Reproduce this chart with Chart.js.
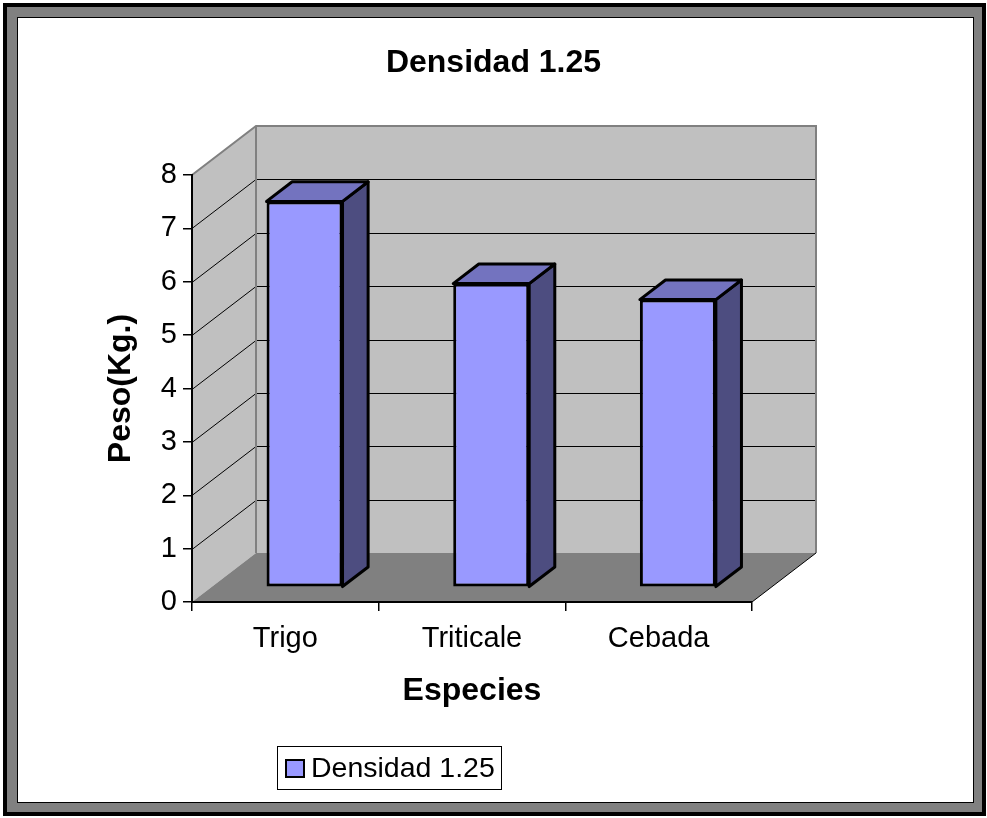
<!DOCTYPE html>
<html>
<head>
<meta charset="utf-8">
<title>Densidad 1.25</title>
<script src="https://cdn.jsdelivr.net/npm/chart.js@4"></script>
<style>
  html, body { margin: 0; padding: 0; background: #fff; }
  canvas { display: block; }
</style>
</head>
<body>
<canvas id="densidadChart" width="987" height="818"></canvas>
<script>
const categories = ['Trigo', 'Triticale', 'Cebada'];
const pesoValues = [7.23, 5.69, 5.39];
const seriesLabel = 'Densidad 1.25';
const yTickValues = [0, 1, 2, 3, 4, 5, 6, 7, 8];

const FONT = "'Liberation Sans', Arial, sans-serif";
const DEPTH_X = 64, DEPTH_Y = 49;        // depth of the 3d walls
const BAR_FRONT = 0.3, BAR_DEPTH = 0.4;  // bar position/depth as part of the wall depth

Chart.defaults.font.family = FONT;
Chart.defaults.color = '#000';

function poly(c, pts, fill, stroke, width) {
    c.beginPath();
    c.moveTo(pts[0][0], pts[0][1]);
    for (let i = 1; i < pts.length; i++) c.lineTo(pts[i][0], pts[i][1]);
    c.closePath();
    if (fill) { c.fillStyle = fill; c.fill(); }
    if (stroke) { c.strokeStyle = stroke; c.lineWidth = width; c.stroke(); }
}

// frame, walls, floor and gridlines behind everything
const walls3d = {
    id: 'walls3d',
    beforeDraw(chart) {
        const c = chart.ctx;
        const {left, right, top, bottom} = chart.chartArea;
        const yScale = chart.scales.y;
        const bx = DEPTH_X, by = DEPTH_Y;
        c.save();
        c.fillStyle = '#000'; c.fillRect(3, 3, 983, 813);
        c.fillStyle = '#808080'; c.fillRect(7, 7, 975, 805);
        c.fillStyle = '#000'; c.fillRect(17, 17, 957, 786);
        c.fillStyle = '#fff'; c.fillRect(18, 18, 955, 784);

        // side wall + back wall
        poly(c, [[left, top], [left + bx, top - by], [left + bx, bottom - by], [left, bottom]], '#c0c0c0');
        c.fillStyle = '#c0c0c0';
        c.fillRect(left + bx, top - by, right - left, bottom - top);
        // floor
        poly(c, [[left, bottom], [right, bottom], [right + bx, bottom - by], [left + bx, bottom - by]], '#808080');

        // gridlines
        c.strokeStyle = '#000';
        c.lineWidth = 1;
        yTickValues.slice(1, -1).forEach(v => {
            const py = Math.round(yScale.getPixelForValue(v)) + 0.5;
            c.beginPath();
            c.moveTo(left, py);
            c.lineTo(left + bx, py - by);
            c.lineTo(right + bx, py - by);
            c.stroke();
        });

        // wall edges
        c.strokeStyle = '#808080';
        c.lineWidth = 2;
        c.beginPath();
        c.moveTo(left, top);
        c.lineTo(left + bx, top - by);
        c.lineTo(right + bx, top - by);
        c.lineTo(right + bx, bottom - by);
        c.moveTo(left + bx, top - by);
        c.lineTo(left + bx, bottom - by);
        c.stroke();
        c.strokeStyle = '#000';
        c.lineWidth = 1;
        c.beginPath();
        c.moveTo(right, bottom);
        c.lineTo(right + bx, bottom - by);
        c.stroke();
        c.restore();
    },
    // side and top faces of the bars, front faces come from chart.js
    beforeDatasetsDraw(chart) {
        const c = chart.ctx;
        c.save();
        c.translate(DEPTH_X * BAR_FRONT, -DEPTH_Y * BAR_FRONT);
        const dx = DEPTH_X * BAR_DEPTH, dy = DEPTH_Y * BAR_DEPTH;
        c.lineJoin = 'round';
        chart.getDatasetMeta(0).data.forEach(bar => {
            const {x, y, base, width} = bar.getProps(['x', 'y', 'base', 'width'], true);
            const l = x - width / 2, r = x + width / 2;
            poly(c, [[r, y], [r + dx, y - dy], [r + dx, base - dy], [r, base]], '#4d4d80', '#000', 3);
            poly(c, [[l, y], [l + dx, y - dy], [r + dx, y - dy], [r, y]], '#7373bf', '#000', 3);
        });
    },
    afterDatasetsDraw(chart) {
        chart.ctx.restore();
    },
    // legend with a box round it
    afterDraw(chart) {
        const c = chart.ctx;
        const ds = chart.data.datasets[0];
        c.save();
        c.fillStyle = '#fff';
        c.fillRect(277, 746, 225, 44);
        c.strokeStyle = '#000';
        c.lineWidth = 1;
        c.strokeRect(277.5, 746.5, 224, 43);
        c.fillStyle = ds.backgroundColor;
        c.fillRect(285, 759, 20, 19);
        c.lineWidth = 2;
        c.strokeRect(286, 760, 18, 17);
        c.fillStyle = '#000';
        c.font = '28.5px ' + FONT;
        c.textBaseline = 'middle';
        c.fillText(ds.label, 311, 769);
        c.restore();
    }
};

const ctx = document.getElementById('densidadChart').getContext('2d');

const densidadChart = new Chart(ctx, {
    type: 'bar',
    data: {
        labels: categories,
        datasets: [{
            label: seriesLabel,
            data: pesoValues,
            backgroundColor: '#9999ff',
            borderColor: '#000',
            borderWidth: 3,
            borderSkipped: false,
            barPercentage: 0.407,
            categoryPercentage: 1,
            clip: false
        }]
    },
    options: {
        responsive: false,
        animation: false,
        events: [],
        layout: {
            padding: { top: 0, left: 0, right: 0, bottom: 78 }
        },
        plugins: {
            legend: { display: false },
            tooltip: { enabled: false },
            title: {
                display: true,
                text: 'Densidad 1.25',
                color: '#000',
                font: { size: 32, weight: 'bold' },
                padding: { top: 43.5, bottom: 93.1 }
            }
        },
        scales: {
            x: {
                grid: { drawOnChartArea: false, drawTicks: true, tickLength: 9, color: '#000', lineWidth: 1.5 },
                border: { display: true, color: '#000', width: 2 },
                ticks: { font: { size: 29 }, padding: 11, color: '#000' },
                title: {
                    display: true,
                    text: 'Especies',
                    color: '#000',
                    font: { size: 32, weight: 'bold' },
                    padding: { top: 0, bottom: 29.5 }
                },
                afterFit(scale) { scale.height = 138; }
            },
            y: {
                min: yTickValues[0],
                max: yTickValues[yTickValues.length - 1],
                ticks: { stepSize: 1, font: { size: 29 }, padding: 6, color: '#000' },
                grid: { drawOnChartArea: false, drawTicks: true, tickLength: 9, color: '#000', lineWidth: 1.5 },
                border: { display: true, color: '#000', width: 2 },
                title: {
                    display: true,
                    text: 'Peso(Kg.)',
                    color: '#000',
                    font: { size: 32, weight: 'bold' },
                    padding: { top: 102, bottom: 0 }
                },
                afterFit(scale) { scale.width = 192; }
            },
            // empty axis that keeps room on the right for the 3d depth
            spacer: {
                type: 'linear',
                position: 'right',
                grid: { display: false },
                border: { display: false },
                ticks: { display: false },
                afterFit(scale) { scale.width = 235; }
            }
        }
    },
    plugins: [walls3d]
});
</script>
</body>
</html>
